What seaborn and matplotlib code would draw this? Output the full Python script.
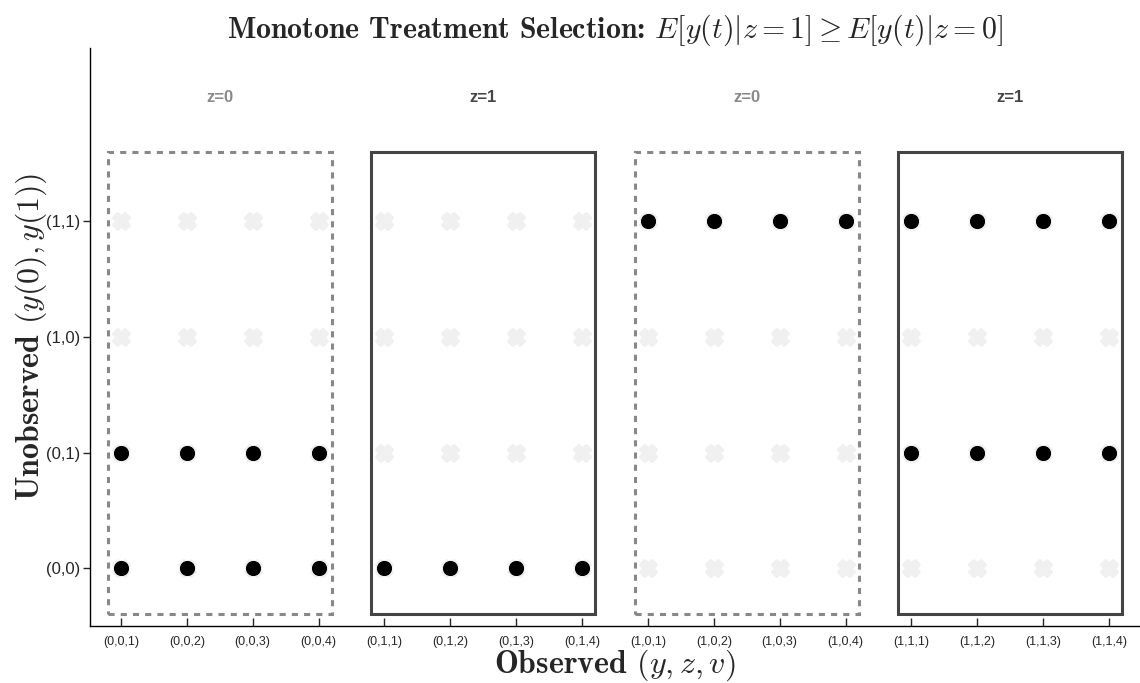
import matplotlib
matplotlib.use("Agg")
import matplotlib.pyplot as plt
import seaborn as sns
import pandas as pd
from matplotlib.patches import Rectangle

# ---- data ----
x_labels = ["(0,0,1)", "(0,0,2)", "(0,0,3)", "(0,0,4)",
            "(0,1,1)", "(0,1,2)", "(0,1,3)", "(0,1,4)",
            "(1,0,1)", "(1,0,2)", "(1,0,3)", "(1,0,4)",
            "(1,1,1)", "(1,1,2)", "(1,1,3)", "(1,1,4)"]
y_labels = ["(0,0)", "(0,1)", "(1,0)", "(1,1)"]
group_labels = ["z=0", "z=1", "z=0", "z=1"]
group_z = [0, 1, 0, 1]
v_per_group = 4
# unobserved (y(0),y(1)) types supported within each observed (y,z) group
support = [["(0,0)", "(0,1)"],
           ["(0,0)"],
           ["(1,1)"],
           ["(1,1)", "(0,1)"]]

sns.set_style("ticks")
plt.rcParams["mathtext.fontset"] = "cm"
plt.rcParams["font.family"] = ["Liberation Sans", "DejaVu Sans"]

fig = plt.figure(figsize=(11.4, 6.83), dpi=100)
ax = fig.add_axes([0.0789, 0.0835, 0.9211, 0.8462])

xpos = {lab: i + 1 for i, lab in enumerate(x_labels)}
ypos = {lab: i + 1 for i, lab in enumerate(y_labels)}

grid = pd.DataFrame([(xpos[xl], ypos[yl]) for xl in x_labels for yl in y_labels],
                    columns=["x", "y"])
pts = []
for g, sup in enumerate(support):
    for k in range(v_per_group):
        xl = x_labels[g * v_per_group + k]
        for yl in sup:
            pts.append((xpos[xl], ypos[yl]))
pts = pd.DataFrame(pts, columns=["x", "y"])

sns.scatterplot(data=grid, x="x", y="y", marker="X", s=110, color="#f0f0f0",
                edgecolor="#f0f0f0", linewidth=3, ax=ax, zorder=2)
sns.scatterplot(data=pts, x="x", y="y", marker="o", s=120, color="black",
                edgecolor="black", linewidth=0, ax=ax, zorder=3)

for g in range(len(group_labels)):
    x0 = g * v_per_group + 1 - 0.2
    w = v_per_group - 1 + 0.4
    if group_z[g] == 0:
        rect = Rectangle((x0, 0.6), w, 4.0, fill=False, edgecolor="#888888",
                         linewidth=2.2, linestyle=(0, (2, 2)), zorder=1)
        col = "#888888"
    else:
        rect = Rectangle((x0, 0.6), w, 4.0, fill=False, edgecolor="#444444",
                         linewidth=2.2, zorder=1)
        col = "#444444"
    ax.add_patch(rect)
    ax.text(g * v_per_group + 1 + (v_per_group - 1) / 2, 5.07, group_labels[g],
            ha="center", va="center", fontsize=12, fontweight="bold", color=col)

ax.set_xlim(0.53, 16.47)
ax.set_ylim(0.5, 5.5)
ax.set_xticks(range(1, len(x_labels) + 1))
ax.set_xticklabels(x_labels, fontsize=9)
ax.set_yticks(range(1, len(y_labels) + 1))
ax.set_yticklabels(y_labels, fontsize=12)
ax.tick_params(axis="x", direction="in", length=6, width=1, pad=7)
ax.tick_params(axis="y", direction="out", length=5, width=1, pad=2)
for s in ["top", "right"]:
    ax.spines[s].set_visible(False)
for s in ["left", "bottom"]:
    ax.spines[s].set_linewidth(1)
    ax.spines[s].set_color("black")

ax.set_xlabel(r"Observed $(y,z,v)$", fontsize=23, fontfamily="cmb10", labelpad=0)
ax.set_ylabel(r"Unobserved $(y(0),y(1))$", fontsize=23, fontfamily="cmb10", labelpad=-2)
ax.set_title(r"Monotone Treatment Selection: $E[y(t)|z=1] \geq E[y(t)|z=0]$",
             fontsize=21.5, fontfamily="cmb10", pad=7)

fig.savefig("out.png", dpi=100, facecolor="white")
